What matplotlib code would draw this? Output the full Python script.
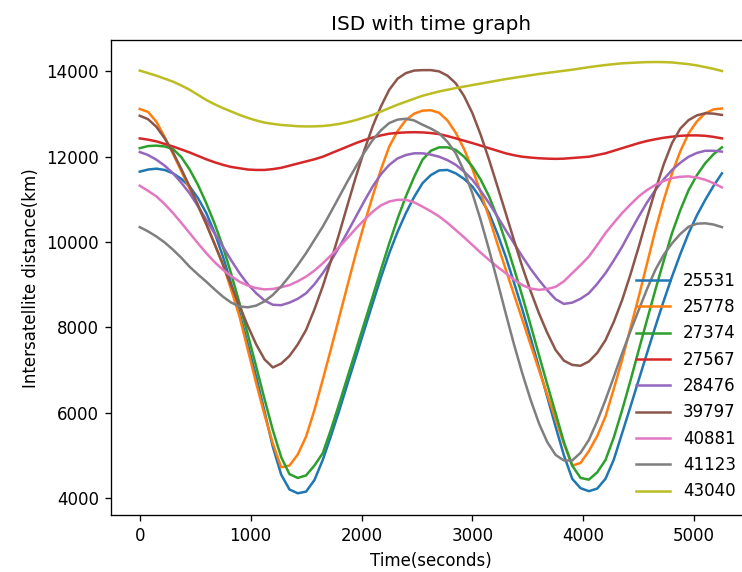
import matplotlib
matplotlib.use("Agg")
import matplotlib.pyplot as plt

# time axis (seconds)
time_s = list(range(0, 5251, 75))

sat_ids = ["25531", "25778", "27374", "27567", "28476", "39797", "40881", "41123", "43040"]

# intersatellite distance (km), one row per 750 s
isd_25531 = [11650, 11700, 11720, 11690, 11610, 11480, 11300, 11030, 10680, 10220,
             9660, 9020, 8330, 7600, 6840, 6030, 5200, 4550, 4200, 4110,
             4150, 4420, 4890, 5460, 6060, 6690, 7310, 7940, 8560, 9170,
             9740, 10240, 10680, 11060, 11380, 11570, 11680, 11690, 11610, 11480,
             11300, 11020, 10680, 10200, 9660, 9050, 8420, 7750, 7060, 6370,
             5670, 5000, 4450, 4230, 4160, 4220, 4450, 4900, 5520, 6140,
             6770, 7400, 8020, 8620, 9190, 9720, 10210, 10630, 10990, 11320,
             11610]
isd_25778 = [13120, 13050, 12820, 12460, 12070, 11660, 11250, 10840, 10420, 9960,
             9480, 8880, 8250, 7470, 6690, 5950, 5280, 4720, 4760, 5020,
             5440, 6060, 6770, 7500, 8250, 9000, 9740, 10430, 11070, 11700,
             12240, 12600, 12860, 13010, 13080, 13090, 13030, 12850, 12560, 12180,
             11710, 11160, 10580, 9960, 9360, 8770, 8180, 7590, 7000, 6420,
             5850, 5270, 4760, 4820, 5100, 5450, 5910, 6560, 7240, 7980,
             8720, 9500, 10280, 10980, 11610, 12130, 12550, 12830, 13020, 13110,
             13130]
isd_27374 = [12200, 12250, 12260, 12240, 12180, 11990, 11700, 11340, 10910, 10430,
             9890, 9250, 8560, 7830, 7080, 6320, 5590, 4960, 4560, 4470,
             4530, 4760, 5050, 5610, 6220, 6850, 7470, 8100, 8720, 9350,
             9970, 10550, 11070, 11530, 11930, 12140, 12220, 12220, 12160, 12000,
             11770, 11460, 11070, 10580, 10000, 9380, 8730, 8050, 7350, 6660,
             5990, 5310, 4760, 4470, 4430, 4600, 4890, 5420, 6060, 6750,
             7470, 8180, 8880, 9560, 10210, 10750, 11220, 11570, 11850, 12060,
             12220]
isd_27567 = [12430, 12400, 12360, 12300, 12240, 12170, 12100, 12020, 11940, 11870,
             11810, 11760, 11730, 11700, 11690, 11690, 11710, 11740, 11790, 11840,
             11890, 11940, 12000, 12080, 12160, 12240, 12320, 12390, 12450, 12500,
             12540, 12560, 12570, 12575, 12570, 12555, 12530, 12485, 12430, 12375,
             12320, 12260, 12200, 12140, 12080, 12035, 12000, 11980, 11965, 11955,
             11950, 11955, 11970, 11985, 12000, 12040, 12080, 12140, 12200, 12260,
             12320, 12370, 12410, 12445, 12470, 12490, 12500, 12500, 12490, 12465,
             12430]
isd_28476 = [12110, 12040, 11930, 11790, 11610, 11390, 11140, 10840, 10520, 10200,
             9890, 9570, 9270, 9010, 8800, 8630, 8530, 8520, 8580, 8670,
             8800, 9010, 9270, 9560, 9890, 10240, 10600, 10960, 11300, 11590,
             11810, 11960, 12040, 12080, 12080, 12050, 12000, 11920, 11810, 11650,
             11460, 11200, 10910, 10600, 10280, 9970, 9660, 9370, 9110, 8870,
             8660, 8550, 8580, 8670, 8800, 9020, 9270, 9570, 9890, 10250,
             10600, 10930, 11220, 11470, 11690, 11860, 12000, 12090, 12140, 12140,
             12120]
isd_39797 = [12960, 12880, 12700, 12430, 12100, 11710, 11300, 10870, 10420, 9950,
             9470, 8980, 8500, 8030, 7600, 7250, 7060, 7150, 7330, 7600,
             7940, 8420, 8960, 9570, 10210, 10880, 11540, 12150, 12710, 13180,
             13570, 13830, 13960, 14020, 14030, 14030, 14000, 13900, 13720, 13420,
             13020, 12510, 11930, 11310, 10680, 10040, 9420, 8850, 8330, 7870,
             7470, 7220, 7120, 7100, 7200, 7400, 7700, 8130, 8640, 9240,
             9890, 10570, 11220, 11820, 12320, 12660, 12860, 12970, 13020, 13010,
             12980]
isd_40881 = [11320, 11200, 11070, 10890, 10680, 10450, 10210, 9970, 9740, 9530,
             9350, 9200, 9070, 8980, 8920, 8890, 8900, 8940, 8990, 9080,
             9190, 9330, 9500, 9690, 9890, 10100, 10320, 10520, 10710, 10860,
             10950, 10990, 10990, 10930, 10830, 10720, 10600, 10450, 10280, 10110,
             9930, 9750, 9580, 9420, 9270, 9120, 8990, 8910, 8880, 8900,
             8950, 9080, 9270, 9460, 9660, 9930, 10210, 10450, 10680, 10880,
             11070, 11220, 11340, 11430, 11500, 11530, 11540, 11510, 11460, 11380,
             11280]
isd_41123 = [10350, 10250, 10130, 9990, 9820, 9630, 9420, 9240, 9070, 8890,
             8720, 8580, 8490, 8470, 8510, 8610, 8760, 8960, 9200, 9460,
             9740, 10050, 10360, 10710, 11070, 11430, 11770, 12100, 12390, 12620,
             12790, 12870, 12890, 12850, 12750, 12660, 12550, 12350, 12080, 11660,
             11140, 10510, 9820, 9080, 8330, 7600, 6920, 6300, 5750, 5310,
             5010, 4880, 4880, 5060, 5360, 5800, 6300, 6840, 7390, 7910,
             8410, 8900, 9350, 9700, 9970, 10190, 10360, 10430, 10440, 10410,
             10350]
isd_43040 = [14020, 13960, 13900, 13830, 13760, 13670, 13570, 13450, 13330, 13230,
             13140, 13060, 12980, 12910, 12850, 12800, 12770, 12745, 12730, 12715,
             12710, 12712, 12720, 12740, 12770, 12810, 12860, 12920, 12980, 13060,
             13140, 13220, 13290, 13360, 13430, 13480, 13530, 13570, 13610, 13645,
             13680, 13715, 13750, 13785, 13820, 13850, 13880, 13910, 13940, 13965,
             13990, 14015, 14040, 14070, 14100, 14125, 14150, 14170, 14190, 14200,
             14210, 14218, 14220, 14218, 14210, 14190, 14170, 14140, 14100, 14060,
             14010]

all_isd = [isd_25531, isd_25778, isd_27374, isd_27567, isd_28476,
           isd_39797, isd_40881, isd_41123, isd_43040]


def main():
    fig = plt.figure(figsize=(742 / 120, 572 / 120), dpi=120)
    ax = fig.add_axes([0.1492, 0.0988, 0.8629, 0.8308])

    for sat, isd in zip(sat_ids, all_isd):
        ax.plot(time_s, isd, label=sat)

    ax.set_xlim(-262, 5512)
    ax.set_ylim(3590, 14730)
    ax.set_title("ISD with time graph")
    ax.set_xlabel("Time(seconds)")
    ax.set_ylabel("Intersatellite distance(km)")
    ax.legend(loc="lower right", frameon=False)

    fig.savefig("out.png", dpi=120)


if __name__ == "__main__":
    main()
